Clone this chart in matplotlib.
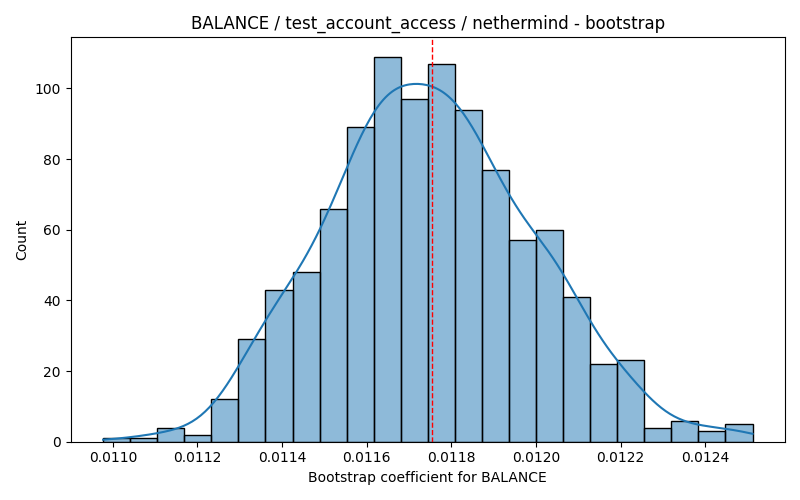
import numpy as np
import pandas as pd
import matplotlib
matplotlib.use("Agg")
import matplotlib.pyplot as plt
import seaborn as sns

# Data
bin_start = 0.010977
bin_end = 0.012512
counts = [1, 1, 4, 2, 12, 29, 43, 48, 66, 89, 109, 97, 107, 94, 77, 57, 60, 41, 22, 23, 4, 6, 3, 5]
mean_value = 0.011754
title = "BALANCE / test_account_access / nethermind - bootstrap"
xlabel = "Bootstrap coefficient for BALANCE"
ylabel = "Count"

counts = np.array(counts, dtype=float)
edges = np.linspace(bin_start, bin_end, len(counts) + 1)
centers = (edges[:-1] + edges[1:]) / 2
width = edges[1] - edges[0]

df = pd.DataFrame({"x": centers, "w": counts})

fig, ax = plt.subplots(figsize=(8, 5), dpi=100)
sns.histplot(data=df, x="x", weights="w", bins=list(edges), ax=ax,
             edgecolor="black", alpha=0.5)

# KDE computed on the binned data (n = total count), Scott bandwidth
n = counts.sum()
mu = np.sum(counts * centers) / n
var = np.sum(counts * (centers - mu) ** 2) / n + width ** 2 / 12
bw = 1.1 * np.sqrt(var) * n ** (-1 / 5)
grid = np.linspace(edges[0], edges[-1], 300)
dens = np.zeros_like(grid)
for c, w in zip(centers, counts):
    dens += w * np.exp(-0.5 * ((grid - c) / bw) ** 2)
dens /= (n * bw * np.sqrt(2 * np.pi))
ax.plot(grid, dens * n * width, color="C0", linewidth=1.5)

ax.axvline(mean_value, color="red", linestyle="--", linewidth=1)
ax.set_title(title)
ax.set_xlabel(xlabel)
ax.set_ylabel(ylabel)
fig.tight_layout()
fig.savefig("out.png")
